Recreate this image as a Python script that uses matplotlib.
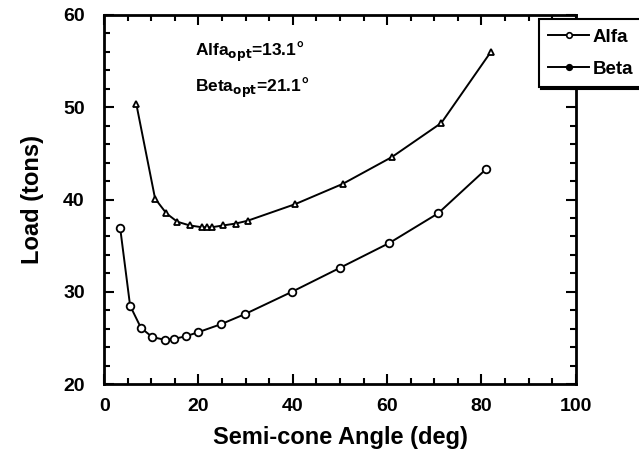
import matplotlib
matplotlib.use("Agg")
import matplotlib.pyplot as plt
from matplotlib.ticker import MultipleLocator
from matplotlib.lines import Line2D

# valores
alfa_x = [3.4, 5.5, 7.8, 10.2, 12.9, 14.8, 17.4, 19.8, 24.8, 29.9, 39.8, 50.0, 60.5, 70.8, 81.0]
alfa_y = [36.9, 28.5, 26.1, 25.1, 24.8, 24.9, 25.2, 25.6, 26.5, 27.6, 30.0, 32.6, 35.3, 38.5, 43.3]

beta_x = [6.8, 10.8, 13.2, 15.5, 18.1, 20.7, 21.8, 22.8, 25.3, 27.9, 30.4, 40.5, 50.6, 61.0, 71.5, 82.0]
beta_y = [50.4, 40.1, 38.5, 37.6, 37.2, 37.0, 37.0, 37.0, 37.2, 37.4, 37.7, 39.5, 41.7, 44.6, 48.3, 56.0]

plt.rcParams['font.family'] = ['Liberation Sans', 'DejaVu Sans']
plt.rcParams['font.weight'] = 'bold'

fig = plt.figure(figsize=(6.39, 4.53), dpi=100)
ax = fig.add_axes([0.163, 0.152, 0.738, 0.815])

ax.plot(alfa_x, alfa_y, color='black', lw=1.4, marker='o', ms=5.5,
        mfc='white', mec='black', mew=1.3)
ax.plot(beta_x, beta_y, color='black', lw=1.4, marker='^', ms=5,
        mfc='white', mec='black', mew=1.3)

ax.set_xlim(0, 100)
ax.set_ylim(20, 60)
ax.xaxis.set_major_locator(MultipleLocator(20))
ax.xaxis.set_minor_locator(MultipleLocator(5))
ax.yaxis.set_major_locator(MultipleLocator(10))
ax.yaxis.set_minor_locator(MultipleLocator(2))
ax.tick_params(which='both', direction='in', top=True, right=True, width=1.5)
ax.tick_params(which='major', length=7, labelsize=14)
ax.tick_params(axis='x', which='major', pad=10)
ax.tick_params(axis='y', which='major', pad=14)
ax.tick_params(which='minor', length=4)
for lab in ax.get_xticklabels() + ax.get_yticklabels():
    lab.set_fontweight('bold')
for s in ax.spines.values():
    s.set_linewidth(2)

ax.set_xlabel('Semi-cone Angle (deg)', fontsize=17, fontweight='bold', labelpad=8)
ax.set_ylabel('Load (tons)', fontsize=17, fontweight='bold', labelpad=14)

ax.text(19.3, 56.0, r'Alfa$_{\mathbf{opt}}$=13.1$\degree$', fontsize=12.5,
        fontweight='bold', va='center')
ax.text(19.3, 52.1, r'Beta$_{\mathbf{opt}}$=21.1$\degree$', fontsize=12.5,
        fontweight='bold', va='center')

handles = [Line2D([], [], color='black', lw=1.4, marker='o', ms=4, mfc='white', mew=1.2),
           Line2D([], [], color='black', lw=1.4, marker='o', ms=4, mfc='black', mew=1.2)]
leg = fig.legend(handles, ['Alfa', 'Beta'], loc='upper right',
                 bbox_to_anchor=(1.006, 0.958), frameon=True, fancybox=False,
                 shadow={'color': 'black', 'alpha': 1.0, 'ox': 1.5, 'oy': -1.5},
                 handlelength=2.2, handletextpad=0.2,
                 borderaxespad=0, borderpad=0.5, prop={'weight': 'bold', 'size': 13.5},
                 labelspacing=0.8)
leg.get_frame().set_edgecolor('black')
leg.get_frame().set_linewidth(1.5)

fig.savefig('out.png', dpi=100)
